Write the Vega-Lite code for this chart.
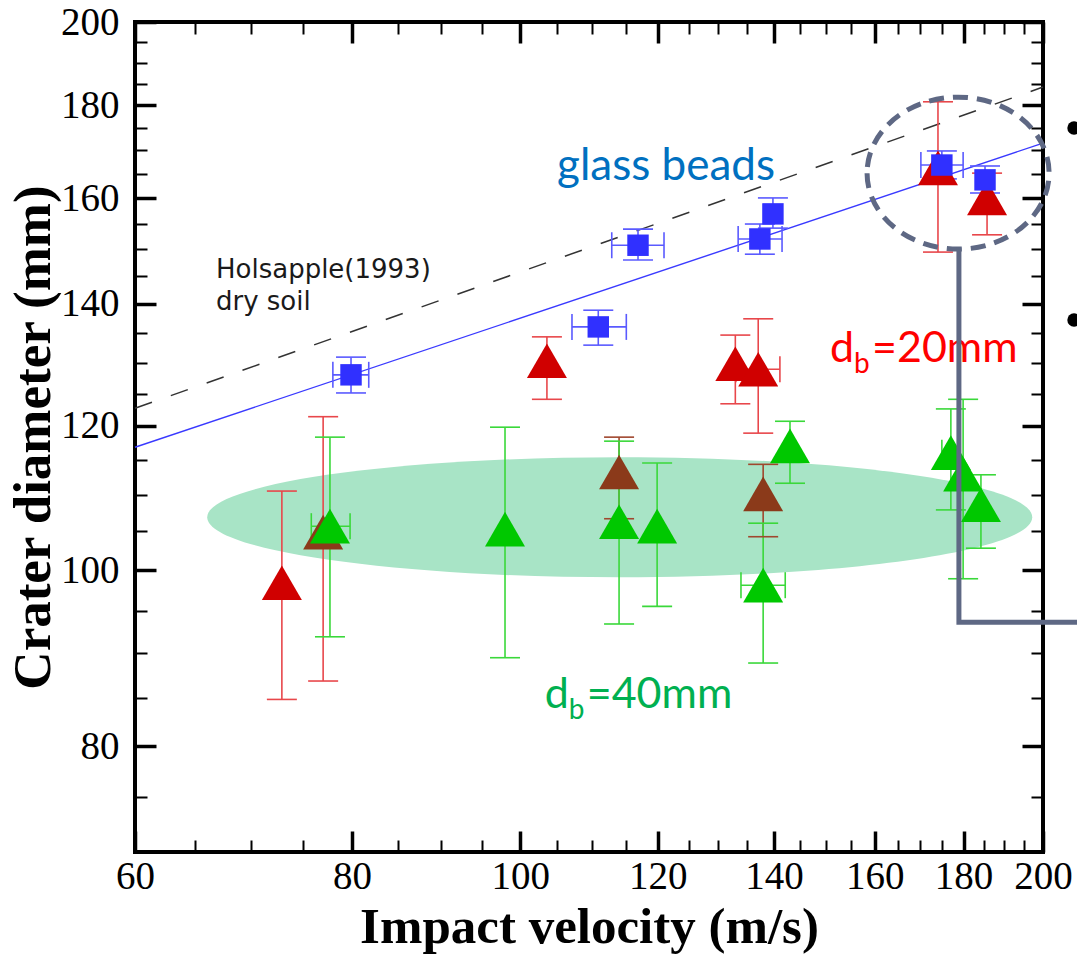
{
  "$schema": "https://vega.github.io/schema/vega-lite/v6.json",
  "autosize": "none",
  "padding": {"left": 135, "top": 22, "right": 34, "bottom": 102},
  "width": 908,
  "height": 830,
  "background": "white",
  "config": {"view": {"stroke": "black", "strokeWidth": 4}},
  "datasets": {
    "pts": [
      {"series": "20mm", "bar": "red", "v": 72.9, "d": 98.4, "dlo": 84.9, "dhi": 110.5},
      {"series": "20mm", "bar": "red", "v": 103.6, "d": 130.3, "dlo": 124.1, "dhi": 134.3},
      {"series": "20mm", "bar": "red", "v": 133.0, "d": 129.8, "dlo": 123.4, "dhi": 134.6},
      {"series": "20mm", "bar": "red", "v": 137.1, "d": 128.9, "dlo": 118.9, "dhi": 137.4, "vlo": 133.1, "vhi": 141.1},
      {"series": "20mm", "bar": "red", "v": 174.0, "d": 166.3, "dlo": 149.5, "dhi": 180.8},
      {"series": "20mm", "bar": "red", "v": 185.7, "d": 160.1, "dlo": 152.8, "dhi": 165.2},
      {"series": "brown", "bar": "red", "v": 77.0, "d": 104.9, "dlo": 86.9, "dhi": 121.4},
      {"series": "brown", "bar": "brown", "v": 114.0, "d": 113.2, "dlo": 106.7, "dhi": 118.3},
      {"series": "brown", "bar": "brown", "v": 138.0, "d": 110.1, "dlo": 104.3, "dhi": 114.3},
      {"series": "40mm", "bar": "green", "v": 77.7, "d": 105.7, "dlo": 91.9, "dhi": 118.3, "vlo": 75.8, "vhi": 79.8},
      {"series": "40mm", "bar": "green", "v": 98.0, "d": 105.3, "dlo": 89.5, "dhi": 119.8},
      {"series": "40mm", "bar": "green", "v": 114.0, "d": 106.3, "dlo": 93.4, "dhi": 117.7},
      {"series": "40mm", "bar": "green", "v": 119.9, "d": 105.7, "dlo": 95.5, "dhi": 114.5},
      {"series": "40mm", "bar": "green", "v": 138.0, "d": 98.1, "dlo": 88.9, "dhi": 106.1, "vlo": 134.0, "vhi": 142.1},
      {"series": "40mm", "bar": "green", "v": 143.0, "d": 117.0, "dlo": 111.6, "dhi": 120.7},
      {"series": "40mm", "bar": "green", "v": 177.0, "d": 116.0, "dlo": 107.9, "dhi": 122.6, "vlo": 174.9, "vhi": 179.2},
      {"series": "40mm", "bar": "green", "v": 179.9, "d": 112.9, "dlo": 98.9, "dhi": 124.1},
      {"series": "40mm", "bar": "green", "v": 184.2, "d": 108.6, "dlo": 102.8, "dhi": 112.8},
      {"series": "glass", "bar": "blue", "v": 79.9, "d": 128.0, "dlo": 125.1, "dhi": 130.9, "vlo": 78.0, "vhi": 81.8},
      {"series": "glass", "bar": "blue", "v": 110.9, "d": 136.0, "dlo": 132.9, "dhi": 138.9, "vlo": 107.1, "vhi": 115.1},
      {"series": "glass", "bar": "blue", "v": 116.9, "d": 150.8, "dlo": 148.0, "dhi": 153.9, "vlo": 112.9, "vhi": 121.0},
      {"series": "glass", "bar": "blue", "v": 137.4, "d": 152.0, "dlo": 149.1, "dhi": 154.9, "vlo": 133.5, "vhi": 141.5},
      {"series": "glass", "bar": "blue", "v": 139.8, "d": 156.9, "dlo": 154.1, "dhi": 160.1},
      {"series": "glass", "bar": "blue", "v": 174.9, "d": 166.9, "dlo": 164.0, "dhi": 169.9, "vlo": 170.1, "vhi": 179.9},
      {"series": "glass", "bar": "blue", "v": 185.2, "d": 163.8, "dlo": 161.1, "dhi": 166.7}
    ]
  },
  "resolve": {"scale": {"x": "shared", "y": "shared"}, "axis": {"x": "independent", "y": "independent"}},
  "layer": [
    {
      "data": {"values": [{"v": 114.1, "d": 106.9}]},
      "mark": {"type": "point", "shape": "M-1,0A1,0.1456,0,1,0,1,0A1,0.1456,0,1,0,-1,0Z", "size": 680625, "filled": true, "fill": "#A8E4C6", "opacity": 1, "strokeWidth": 0},
      "encoding": {
        "x": {"field": "v", "type": "quantitative", "scale": {"type": "log", "domain": [60, 200], "nice": false},
          "axis": {
            "orient": "bottom",
            "values": [60,65,70,75,80,85,90,95,100,105,110,115,120,125,130,135,140,145,150,155,160,165,170,175,180,185,190,195,200],
            "labelExpr": "datum.value % 20 === 0 ? format(datum.value, 'd') : ''",
            "tickSize": {"condition": {"test": "datum.value % 20 === 0", "value": -21}, "value": -12},
            "tickWidth": {"condition": {"test": "datum.value % 20 === 0", "value": 3.5}, "value": 2},
            "tickColor": "black",
            "domain": false, "grid": false,
            "labelFont": "Liberation Serif", "labelFontSize": 39, "labelColor": "black",
            "labelPadding": 26, "labelFlush": false, "labelOverlap": false,
            "title": "Impact velocity (m/s)", "titleFont": "Liberation Serif", "titleFontSize": 51, "titleFontWeight": "bold", "titleColor": "black",
            "titleY": 90, "titleBaseline": "alphabetic", "zindex": 1
          }},
        "y": {"field": "d", "type": "quantitative", "scale": {"type": "log", "domain": [70, 200], "nice": false},
          "axis": {
            "orient": "left",
            "values": [70,75,80,85,90,95,100,105,110,115,120,125,130,135,140,145,150,155,160,165,170,175,180,185,190,195,200],
            "labelExpr": "datum.value % 20 === 0 ? format(datum.value, 'd') : ''",
            "tickSize": {"condition": {"test": "datum.value % 20 === 0", "value": -21}, "value": -12},
            "tickWidth": {"condition": {"test": "datum.value % 20 === 0", "value": 3.5}, "value": 2},
            "tickColor": "black",
            "domain": false, "grid": false,
            "labelFont": "Liberation Serif", "labelFontSize": 39, "labelColor": "black",
            "labelPadding": 37, "labelFlush": false, "labelOverlap": false,
            "title": "Crater diameter (mm)", "titleFont": "Liberation Serif", "titleFontSize": 53, "titleFontWeight": "bold", "titleColor": "black",
            "titleX": -86, "titleBaseline": "alphabetic", "zindex": 1
          }}
      }
    },
    {
      "data": {"values": [{"v": 60, "d": 116.8}, {"v": 200, "d": 171.6}]},
      "mark": {"type": "line", "color": "#3A3AFF", "strokeWidth": 1.4},
      "encoding": {
        "x": {"field": "v", "type": "quantitative", "scale": {"type": "log", "domain": [60, 200], "nice": false},
          "axis": {
            "orient": "top",
            "values": [60,65,70,75,80,85,90,95,100,105,110,115,120,125,130,135,140,145,150,155,160,165,170,175,180,185,190,195,200],
            "labels": false, "title": null,
            "tickSize": {"condition": {"test": "datum.value % 20 === 0", "value": -21}, "value": -12},
            "tickWidth": {"condition": {"test": "datum.value % 20 === 0", "value": 3.5}, "value": 2},
            "tickColor": "black", "domain": false, "grid": false, "zindex": 1
          }},
        "y": {"field": "d", "type": "quantitative", "scale": {"type": "log", "domain": [70, 200], "nice": false},
          "axis": {
            "orient": "right",
            "values": [70,75,80,85,90,95,100,105,110,115,120,125,130,135,140,145,150,155,160,165,170,175,180,185,190,195,200],
            "labels": false, "title": null,
            "tickSize": {"condition": {"test": "datum.value % 20 === 0", "value": -21}, "value": -12},
            "tickWidth": {"condition": {"test": "datum.value % 20 === 0", "value": 3.5}, "value": 2},
            "tickColor": "black", "domain": false, "grid": false, "zindex": 1
          }}
      }
    },
    {
      "data": {"values": [{"v": 60, "d": 122.7}, {"v": 200, "d": 184.2}]},
      "mark": {"type": "line", "color": "#333333", "strokeWidth": 1.5, "strokeDash": [18, 20]},
      "encoding": {
        "x": {"field": "v", "type": "quantitative", "axis": null},
        "y": {"field": "d", "type": "quantitative", "axis": null}
      }
    },
    {
      "data": {"name": "pts"},
      "mark": {"type": "rule", "strokeWidth": 1.6},
      "encoding": {
        "x": {"field": "v", "type": "quantitative", "axis": null},
        "y": {"field": "dlo", "type": "quantitative", "axis": null},
        "y2": {"field": "dhi"},
        "color": {"field": "bar", "type": "nominal", "legend": null,
          "scale": {"domain": ["red", "brown", "green", "blue"], "range": ["#E8474B", "#A0472E", "#3AD83A", "#5A5AFF"]}}
      }
    },
    {
      "data": {"name": "pts"},
      "mark": {"type": "tick", "orient": "horizontal", "size": 30, "thickness": 1.6, "opacity": 1},
      "encoding": {
        "x": {"field": "v", "type": "quantitative", "axis": null},
        "y": {"field": "dlo", "type": "quantitative", "axis": null},
        "color": {"field": "bar", "type": "nominal", "legend": null}
      }
    },
    {
      "data": {"name": "pts"},
      "mark": {"type": "tick", "orient": "horizontal", "size": 30, "thickness": 1.6, "opacity": 1},
      "encoding": {
        "x": {"field": "v", "type": "quantitative", "axis": null},
        "y": {"field": "dhi", "type": "quantitative", "axis": null},
        "color": {"field": "bar", "type": "nominal", "legend": null}
      }
    },
    {
      "data": {"name": "pts"},
      "transform": [{"filter": "isValid(datum.vlo)"}],
      "mark": {"type": "rule", "strokeWidth": 1.6},
      "encoding": {
        "x": {"field": "vlo", "type": "quantitative", "axis": null},
        "x2": {"field": "vhi"},
        "y": {"field": "d", "type": "quantitative", "axis": null},
        "color": {"field": "bar", "type": "nominal", "legend": null}
      }
    },
    {
      "data": {"name": "pts"},
      "transform": [{"filter": "isValid(datum.vlo)"}],
      "mark": {"type": "tick", "orient": "vertical", "size": 26, "thickness": 1.6, "opacity": 1},
      "encoding": {
        "x": {"field": "vlo", "type": "quantitative", "axis": null},
        "y": {"field": "d", "type": "quantitative", "axis": null},
        "color": {"field": "bar", "type": "nominal", "legend": null}
      }
    },
    {
      "data": {"name": "pts"},
      "transform": [{"filter": "isValid(datum.vlo)"}],
      "mark": {"type": "tick", "orient": "vertical", "size": 26, "thickness": 1.6, "opacity": 1},
      "encoding": {
        "x": {"field": "vhi", "type": "quantitative", "axis": null},
        "y": {"field": "d", "type": "quantitative", "axis": null},
        "color": {"field": "bar", "type": "nominal", "legend": null}
      }
    },
    {
      "data": {"name": "pts"},
      "transform": [{"filter": "datum.series !== 'glass'"}],
      "mark": {"type": "point", "shape": "triangle-up", "size": 1600, "filled": true, "opacity": 1, "strokeWidth": 0},
      "encoding": {
        "x": {"field": "v", "type": "quantitative", "axis": null},
        "y": {"field": "d", "type": "quantitative", "axis": null},
        "fill": {"field": "series", "type": "nominal", "legend": null,
          "scale": {"domain": ["20mm", "brown", "40mm", "glass"], "range": ["#D00000", "#8B3A1A", "#00C800", "#3030FF"]}}
      }
    },
    {
      "data": {"name": "pts"},
      "transform": [{"filter": "datum.series === 'glass'"}],
      "mark": {"type": "point", "shape": "square", "size": 460, "filled": true, "opacity": 1, "strokeWidth": 0},
      "encoding": {
        "x": {"field": "v", "type": "quantitative", "axis": null},
        "y": {"field": "d", "type": "quantitative", "axis": null},
        "fill": {"field": "series", "type": "nominal", "legend": null}
      }
    },
    {
      "data": {"values": [{"v": 105.0, "d": 163.8, "t": "glass beads"}]},
      "mark": {"type": "text", "font": "Lato", "fontSize": 44, "color": "#0070C0", "align": "left", "baseline": "alphabetic"},
      "encoding": {
        "x": {"field": "v", "type": "quantitative", "axis": null},
        "y": {"field": "d", "type": "quantitative", "axis": null},
        "text": {"field": "t"}
      }
    },
    {
      "data": {"values": [{"v": 66.8, "d": 144.7, "t": "Holsapple(1993)"}, {"v": 66.8, "d": 138.9, "t": "dry soil"}]},
      "mark": {"type": "text", "font": "DejaVu Sans", "fontSize": 26, "color": "#1a1a1a", "align": "left", "baseline": "alphabetic"},
      "encoding": {
        "x": {"field": "v", "type": "quantitative", "axis": null},
        "y": {"field": "d", "type": "quantitative", "axis": null},
        "text": {"field": "t"}
      }
    },
    {
      "data": {"values": [{"v": 150.8, "d": 130.1, "t": "d"}]},
      "mark": {"type": "text", "font": "Lato", "fontSize": 43, "color": "#FF0000", "align": "left", "baseline": "alphabetic"},
      "encoding": {
        "x": {"field": "v", "type": "quantitative", "axis": null},
        "y": {"field": "d", "type": "quantitative", "axis": null},
        "text": {"field": "t"}
      }
    },
    {
      "data": {"values": [{"v": 150.8, "d": 130.1, "t": "b"}]},
      "mark": {"type": "text", "font": "Lato", "fontSize": 28, "color": "#FF0000", "align": "left", "baseline": "alphabetic", "dx": 24, "dy": 11},
      "encoding": {
        "x": {"field": "v", "type": "quantitative", "axis": null},
        "y": {"field": "d", "type": "quantitative", "axis": null},
        "text": {"field": "t"}
      }
    },
    {
      "data": {"values": [{"v": 150.8, "d": 130.1, "t": "=20mm"}]},
      "mark": {"type": "text", "font": "Lato", "fontSize": 43, "color": "#FF0000", "align": "left", "baseline": "alphabetic", "dx": 42},
      "encoding": {
        "x": {"field": "v", "type": "quantitative", "axis": null},
        "y": {"field": "d", "type": "quantitative", "axis": null},
        "text": {"field": "t"}
      }
    },
    {
      "data": {"values": [{"v": 103.3, "d": 84.0, "t": "d"}]},
      "mark": {"type": "text", "font": "Lato", "fontSize": 43, "color": "#00B050", "align": "left", "baseline": "alphabetic"},
      "encoding": {
        "x": {"field": "v", "type": "quantitative", "axis": null},
        "y": {"field": "d", "type": "quantitative", "axis": null},
        "text": {"field": "t"}
      }
    },
    {
      "data": {"values": [{"v": 103.3, "d": 84.0, "t": "b"}]},
      "mark": {"type": "text", "font": "Lato", "fontSize": 28, "color": "#00B050", "align": "left", "baseline": "alphabetic", "dx": 24, "dy": 11},
      "encoding": {
        "x": {"field": "v", "type": "quantitative", "axis": null},
        "y": {"field": "d", "type": "quantitative", "axis": null},
        "text": {"field": "t"}
      }
    },
    {
      "data": {"values": [{"v": 103.3, "d": 84.0, "t": "=40mm"}]},
      "mark": {"type": "text", "font": "Lato", "fontSize": 43, "color": "#00B050", "align": "left", "baseline": "alphabetic", "dx": 42},
      "encoding": {
        "x": {"field": "v", "type": "quantitative", "axis": null},
        "y": {"field": "d", "type": "quantitative", "axis": null},
        "text": {"field": "t"}
      }
    },
    {
      "data": {"values": [{"v": 178.7, "d": 165.2}]},
      "mark": {"type": "point", "shape": "M-1,0A1,0.835,0,1,0,1,0A1,0.835,0,1,0,-1,0Z", "size": 33124, "filled": false, "stroke": "#5E6884", "strokeWidth": 5, "strokeDash": [15, 9], "opacity": 1},
      "encoding": {
        "x": {"field": "v", "type": "quantitative", "axis": null},
        "y": {"field": "d", "type": "quantitative", "axis": null}
      }
    },
    {
      "data": {"values": [{"v": 178.9, "d": 150.3, "o": 1}, {"v": 178.9, "d": 93.6, "o": 2}, {"v": 210.0, "d": 93.6, "o": 3}]},
      "mark": {"type": "line", "color": "#5E6884", "strokeWidth": 5, "clip": false},
      "encoding": {
        "x": {"field": "v", "type": "quantitative", "axis": null},
        "y": {"field": "d", "type": "quantitative", "axis": null},
        "order": {"field": "o", "type": "quantitative"}
      }
    },
    {
      "data": {"values": [{"v": 208.4, "d": 174.9}, {"v": 208.4, "d": 137.2}]},
      "mark": {"type": "point", "shape": "circle", "filled": true, "color": "black", "size": 180, "opacity": 1, "clip": false},
      "encoding": {
        "x": {"field": "v", "type": "quantitative", "axis": null},
        "y": {"field": "d", "type": "quantitative", "axis": null}
      }
    }
  ]
}
